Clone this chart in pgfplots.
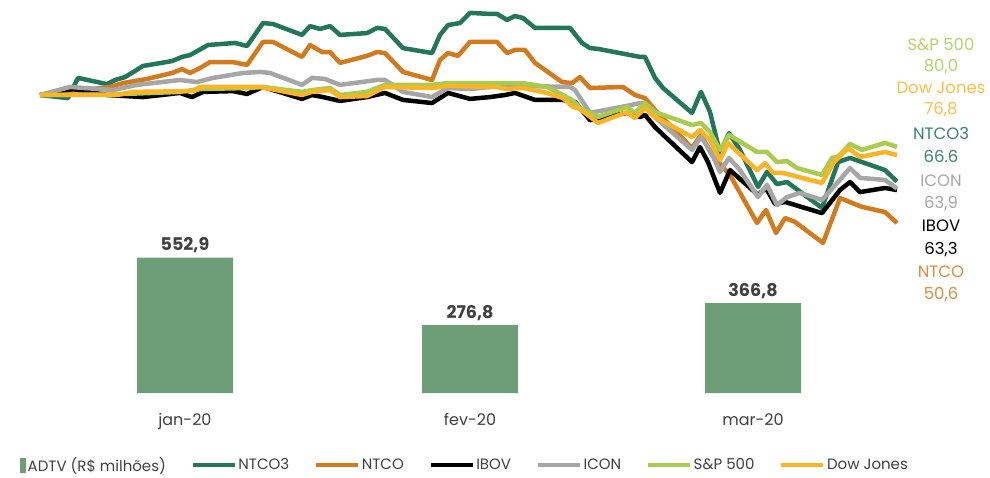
\documentclass[border=0pt]{standalone}
\usepackage{fontspec}
\setmainfont{Poppins}
\usepackage{pgfplots}
\pgfplotsset{compat=1.18}
\definecolor{cntco3}{HTML}{23765A}
\definecolor{cntco}{HTML}{D27A1E}
\definecolor{cicon}{HTML}{A6A6A6}
\definecolor{csp}{HTML}{A8CB50}
\definecolor{cdow}{HTML}{FBB424}
\definecolor{cbar}{HTML}{6E9E77}
\definecolor{ctxt}{HTML}{404040}
\begin{document}
\begin{tikzpicture}[x=1pt,y=1pt]
\useasboundingbox (0,0) rectangle (990,477);
% bars: ADTV
\begin{axis}[
  at={(40pt,84pt)}, anchor=south west,
  scale only axis, width=857pt, height=393pt,
  xmin=40, xmax=897, ymin=0, ymax=1604,
  axis line style={draw=none},
  major tick length=0pt,
  ytick=\empty,
  xtick={185,470,753},
  xticklabels={jan-20,fev-20,mar-20},
  xticklabel style={font=\fontsize{16}{16}\selectfont, text=ctxt, yshift=-17pt},
  /pgf/number format/.cd, use comma, fixed, fixed zerofill, precision=1, assume math mode=true,
]
\addplot[ybar, bar width=96pt, fill=cbar, draw=none,
  nodes near coords,
  every node near coord/.append style={font=\bfseries\fontsize{17.5}{17.5}\selectfont, text=ctxt, yshift=1pt}]
  coordinates {(185,552.9) (470,276.8) (753,366.8)};
\end{axis}
% lines: base 100
\begin{axis}[
  at={(40pt,84pt)}, anchor=south west,
  scale only axis, width=857pt, height=393pt,
  xmin=40, xmax=897, ymin=-15.06, ymax=136.68,
  axis lines=none, clip=false,
  legend columns=-1,
  legend style={at={(axis description cs:0.496,-0.183)}, anchor=center, draw=none,
    font=\fontsize{15}{15}\selectfont, text=ctxt,
    /tikz/every even column/.append style={column sep=23pt}},
  legend image code/.code={\draw[#1, line width=3.5pt] (0pt,0pt) -- (42pt,0pt);},
]
\addlegendimage{legend image code/.code={\fill[cbar] (0pt,-7pt) rectangle (5pt,7pt);}}
\addlegendentry{ADTV (R\$ milhões)}
\addplot[cntco3, line width=4.5pt, line join=round] coordinates {
(40,100) (68,98.8) (78,106.6) (107,104.2) (115,105.8) (125,106.9) (143,111.2) (172,113.1)
(182,114.7) (190,115.4) (208,119.3) (235,120.1) (247,118.9) (263,127.8) (273,127.4) (302,123.2)
(310,126.6) (320,125.5) (330,126.6) (340,123.2) (367,123.9) (377,125.9) (385,125.5) (403,118.1)
(432,116.2) (440,123.2) (448,127.0) (460,127.8) (470,131.7) (490,131.3) (497,131.3) (507,129.0)
(515,130.5) (523,129.7) (535,125.9) (570,125.9) (582,120.1) (590,118.1) (598,117.8) (640,114.7)
(645,114.7) (655,106.6) (663,102.7) (692,93.1) (701,101.2) (710,93.4) (720,77.6) (729,85.3)
(740,78.8) (758,64.5) (767,70.3) (777,65.6) (787,66.4) (822,56.4) (838,74.1) (850,75.7)
(862,74.1) (885,71.0) (897,66.6)};
\addlegendentry{NTCO3}
\addplot[cntco, line width=4.5pt, line join=round] coordinates {
(40,100) (110,103.1) (123,104.6) (147,106.2) (172,108.5) (182,110.0) (190,108.5) (200,110.4)
(210,112.7) (233,112.7) (247,111.6) (263,120.5) (273,120.5) (302,114.7) (310,119.3) (322,116.6)
(330,116.6) (340,112.4) (367,115.1) (377,116.6) (385,116.2) (403,108.9) (432,105.8) (440,113.5)
(448,116.2) (458,115.1) (470,120.5) (497,120.5) (507,116.2) (515,117.4) (525,117.4) (535,112.4)
(562,105.0) (572,104.6) (580,106.9) (590,102.7) (623,103.1) (635,100.0) (645,98.8) (655,94.2)
(692,79.5) (701,84.6) (712,76.8) (730,69.1) (757,50.6) (766,55.6) (776,46.7) (785,52.5)
(795,51.0) (823,42.9) (840,60.2) (862,56.8) (885,54.8) (897,50.6)};
\addlegendentry{NTCO}
\addplot[black, line width=4.5pt, line join=round] coordinates {
(40,100) (73,102.3) (107,100) (143,99.2) (180,100.8) (192,99.2) (203,101.2) (233,101.5)
(247,100.4) (263,103.1) (302,98.5) (312,100) (323,99.2) (340,97.7) (367,99.2) (385,100.8)
(403,98.1) (432,96.9) (448,100.8) (470,98.5) (490,99.2) (505,100) (515,100.8) (535,98.1)
(562,98.1) (575,97.3) (590,90.3) (627,93.1) (640,91.5) (645,92.3) (655,87.6) (692,74.1)
(700,79.9) (708,74.1) (720,62.2) (730,71.0) (758,61.4) (766,64.1) (775,57.9) (785,58.7)
(822,54.4) (840,63.3) (850,66.4) (860,62.5) (885,64.1) (897,63.3)};
\addlegendentry{IBOV}
\addplot[cicon, line width=4.5pt, line join=round] coordinates {
(40,100) (70,103.1) (113,101.9) (137,103.9) (180,105.8) (197,105.0) (213,106.6) (243,108.5)
(260,108.9) (270,108.5) (302,103.9) (312,106.6) (325,106.2) (340,103.9) (377,105.8) (385,105.8)
(403,101.2) (432,99.2) (448,102.7) (470,102.3) (490,103.1) (523,103.5) (570,103.1) (575,101.9)
(590,93.1) (627,95.8) (640,96.9) (645,96.9) (650,93.1) (692,78.8) (701,83.8) (710,78.8)
(720,70.3) (729,75.7) (740,71.0) (758,60.6) (767,65.3) (777,57.5) (787,60.6) (800,62.2)
(822,59.5) (838,66.4) (850,71.8) (860,68.0) (885,67.2) (897,63.9)};
\addlegendentry{ICON}
\addplot[csp, line width=4.5pt, line join=round] coordinates {
(40,100) (110,100.2) (180,101.2) (200,102.3) (247,102.7) (263,103.1) (302,101.2) (312,101.9)
(330,102.7) (340,100) (367,101.2) (385,103.9) (432,103.9) (448,104.6) (523,104.6) (547,103.1)
(563,100) (572,98.1) (580,95.0) (598,91.5) (627,95.4) (635,93.1) (645,96.9) (655,93.4)
(692,88.4) (701,89.2) (710,85.7) (720,78.8) (729,84.6) (757,78.0) (767,78.0) (777,74.1)
(787,74.5) (797,71.8) (822,69.1) (832,75.7) (838,76.1) (850,81.1) (862,78.8) (885,81.5)
(897,80.0)};
\addlegendentry{S\&P 500}
\addplot[cdow, line width=4.5pt, line join=round] coordinates {
(40,100) (117,100) (133,101.2) (193,101.5) (200,103.1) (260,103.1) (302,100) (312,101.2)
(330,101.9) (340,99.2) (367,99.6) (385,103.1) (432,102.7) (448,103.5) (497,103.1) (507,102.3)
(523,102.7) (547,100.8) (563,98.8) (573,95.4) (580,94.6) (598,89.2) (627,93.4) (635,91.1)
(645,95.0) (655,91.5) (692,83.8) (700,86.5) (710,82.6) (720,74.9) (728,81.5) (757,71.0)
(765,73.7) (773,69.9) (783,69.9) (822,66.0) (833,73.7) (848,79.5) (860,76.1) (885,78.0)
(897,76.8)};
\addlegendentry{Dow Jones}
\begin{scope}[every node/.style={font=\fontsize{16.5}{16.5}\selectfont}]
\node[text=csp!85!white] at (axis cs:941,119.3) {S\&P 500};
\node[text=csp!85!white] at (axis cs:941,110.8) {80,0};
\node[text=cdow!85!white] at (axis cs:941,102.7) {Dow Jones};
\node[text=cdow!85!white] at (axis cs:941,94.2) {76,8};
\node[text=cntco3!90!white] at (axis cs:941,85.3) {NTCO3};
\node[text=cntco3!90!white] at (axis cs:941,76.1) {66.6};
\node[text=cicon] at (axis cs:941,66.8) {ICON};
\node[text=cicon] at (axis cs:941,57.9) {63,9};
\node[text=black] at (axis cs:941,49.4) {IBOV};
\node[text=black] at (axis cs:941,40.5) {63,3};
\node[text=cntco!85!white] at (axis cs:941,31.7) {NTCO};
\node[text=cntco!85!white] at (axis cs:941,22.8) {50,6};
\end{scope}
\end{axis}
\end{tikzpicture}
\end{document}
